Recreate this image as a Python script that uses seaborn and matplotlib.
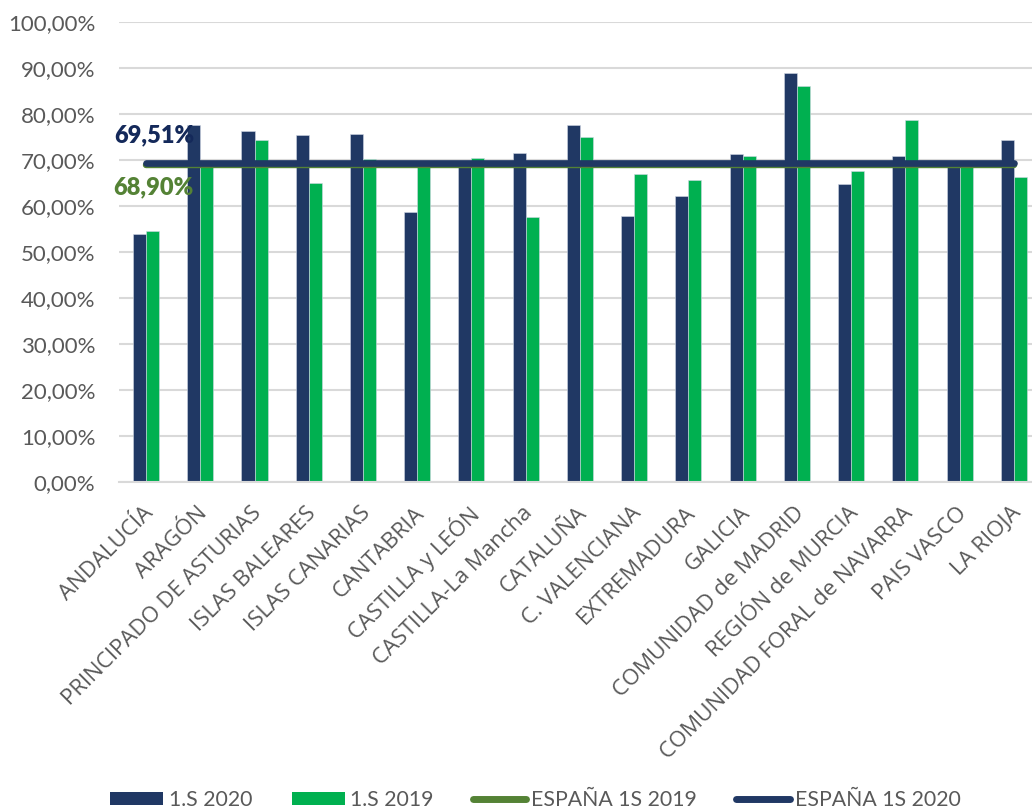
import numpy as np
import pandas as pd
import matplotlib
matplotlib.use("Agg")
import matplotlib.pyplot as plt
import matplotlib.transforms as mtransforms
from matplotlib.patches import Patch
from matplotlib.lines import Line2D
from matplotlib.font_manager import FontProperties
import seaborn as sns

regions = ["ANDALUCÍA", "ARAGÓN", "PRINCIPADO DE ASTURIAS", "ISLAS BALEARES",
           "ISLAS CANARIAS", "CANTABRIA", "CASTILLA y LEÓN", "CASTILLA-La Mancha",
           "CATALUÑA", "C. VALENCIANA", "EXTREMADURA", "GALICIA",
           "COMUNIDAD de MADRID", "REGIÓN de MURCIA", "COMUNIDAD FORAL de NAVARRA",
           "PAIS VASCO", "LA RIOJA"]
s2020 = [53.9, 77.6, 76.4, 75.4, 75.7, 58.8, 69.0, 71.6, 77.6, 57.9, 62.2,
         71.4, 88.9, 64.8, 71.0, 68.9, 74.4]
s2019 = [54.6, 69.2, 74.5, 65.0, 70.3, 68.6, 70.4, 57.6, 75.1, 67.0, 65.7,
         71.0, 86.1, 67.7, 78.8, 68.5, 66.4]
espana_2019 = 68.90
espana_2020 = 69.51
series_names = ["1.S 2020", "1.S 2019"]
line_names = ["ESPAÑA 1S 2019", "ESPAÑA 1S 2020"]
yticks = [0, 10, 20, 30, 40, 50, 60, 70, 80, 90, 100]

NAVY = "#203864"
GREEN = "#00B050"
OLIVE = "#548235"
GRAY = "#595959"

df = pd.DataFrame({
    "region": regions * 2,
    "serie": [series_names[0]] * len(regions) + [series_names[1]] * len(regions),
    "valor": s2020 + s2019,
})

sns.set_theme(style="white")
plt.rcParams["font.family"] = ["Lato", "DejaVu Sans"]

fig = plt.figure(figsize=(10.32, 8.11), dpi=100)
ax = fig.add_axes([118.9 / 1032, 1 - 482.3 / 811, (1041 - 118.9) / 1032, (482.3 - 22.3) / 811])

sns.barplot(data=df, x="region", y="valor", hue="serie", palette=[NAVY, GREEN],
            width=0.48, gap=0, ax=ax, legend=False, saturation=1,
            edgecolor="#d0d8e4", linewidth=0.4, zorder=2)

n = len(regions)
xs = np.array([0, n - 1])
ax.plot(xs, [espana_2019] * 2, color=OLIVE, lw=4.6, solid_capstyle="round", zorder=3)
ax.plot(xs, [espana_2020] * 2, color=NAVY, lw=4.8, solid_capstyle="round", zorder=4)

ax.text(-0.59, 73.9, f"{espana_2020:.2f}%".replace(".", ","), color="#14295a",
        fontsize=17, fontweight="heavy", ha="left", va="baseline", zorder=5)
ax.text(-0.61, 62.6, f"{espana_2019:.2f}%".replace(".", ","), color=OLIVE,
        fontsize=17, fontweight="heavy", ha="left", va="baseline", zorder=5)

ax.set_xlim(-0.5, n - 0.5)
ax.set_ylim(0, 100)
ax.set_yticks(yticks)
ax.set_yticklabels([f"{v:.2f}%".replace(".", ",") for v in yticks])
ax.yaxis.grid(True, color="#D9D9D9", lw=1.5, zorder=0)
ax.set_axisbelow(True)
for s in ["top", "right", "left"]:
    ax.spines[s].set_visible(False)
ax.spines["bottom"].set_color("#D9D9D9")
ax.spines["bottom"].set_linewidth(1.5)
ax.set_xlabel("")
ax.set_ylabel("")

ax.tick_params(axis="y", length=0, pad=17, labelsize=16, labelcolor=GRAY)
ax.tick_params(axis="x", length=0, pad=20)
ax.set_xticks(range(n))
ax.set_xticklabels(regions, rotation=45, ha="right", va="center",
                   rotation_mode="anchor", color=GRAY)
xfont = FontProperties(family="Open Sans", size=16)
offset = mtransforms.ScaledTranslation(4 / 100, 0, fig.dpi_scale_trans)
for lab in ax.get_xticklabels():
    lab.set_fontproperties(xfont)
    lab.set_transform(lab.get_transform() + offset)

handles = [Patch(facecolor=NAVY, edgecolor="none"),
           Patch(facecolor=GREEN, edgecolor="none"),
           Line2D([], [], color=OLIVE, lw=5, solid_capstyle="round"),
           Line2D([], [], color=NAVY, lw=5, solid_capstyle="round")]
labels = series_names + line_names
leg = fig.legend(handles, labels, ncol=4, loc="center",
                 bbox_to_anchor=(535.5 / 1032, 1 - 800 / 811), frameon=False,
                 fontsize=15.3, handlelength=2.5, handleheight=0.6,
                 handletextpad=0.25, columnspacing=1.85, borderpad=0, borderaxespad=0)
for t in leg.get_texts():
    t.set_color(GRAY)

fig.savefig("out.png", dpi=100)
